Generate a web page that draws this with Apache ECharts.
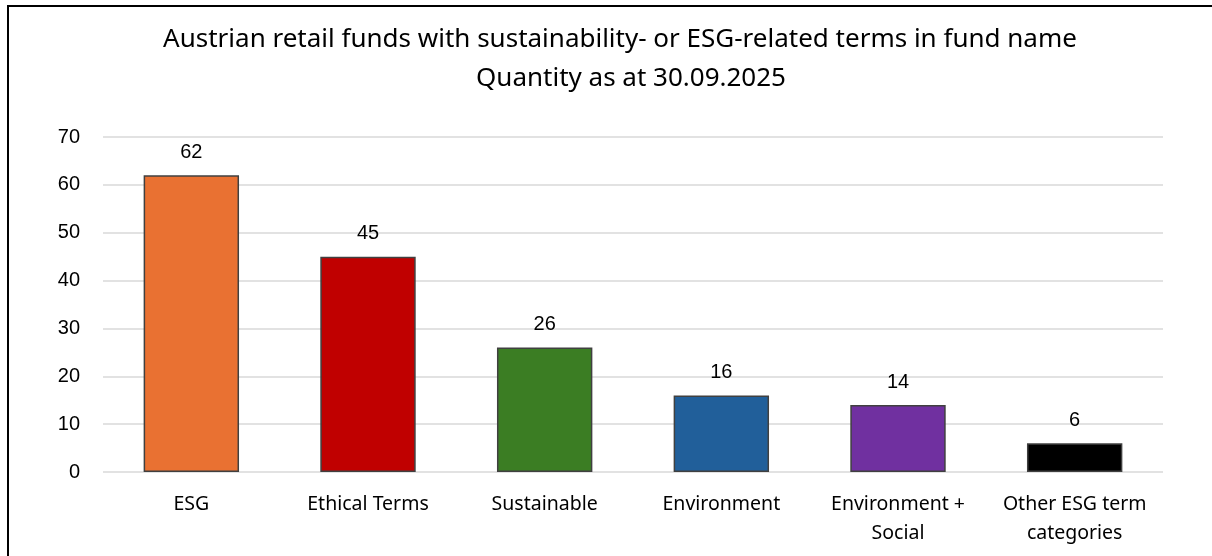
<!DOCTYPE html>
<html>
<head>
<meta charset="utf-8">
<script src="https://cdn.jsdelivr.net/npm/echarts@6/dist/echarts.min.js"></script>
<style>
  html, body { margin: 0; padding: 0; background: #ffffff; }
  #frame { position: absolute; left: 7px; top: 5px; width: 1220px; height: 560px; border: 2px solid #000; box-sizing: border-box; }
  #chart { position: absolute; left: 0; top: 0; width: 1212px; height: 556px; }
</style>
</head>
<body>
<div id="frame"></div>
<div id="chart"></div>
<script>
// Fund counts by term category
const categories = ['ESG', 'Ethical Terms', 'Sustainable', 'Environment', 'Environment +\nSocial', 'Other ESG term\ncategories'];
const fundCounts = [62, 45, 26, 16, 14, 6];
const barColors = ['#E97132', '#C00000', '#3B7D23', '#215F9A', '#7030A0', '#000000'];
const yTicks = { min: 0, max: 70, interval: 10 };
const titleLines = ['Austrian retail funds with sustainability- or ESG-related terms in fund name', 'Quantity as at 30.09.2025'];

const chart = echarts.init(document.getElementById('chart'), null, { renderer: 'canvas' });

const titleStyle = {
  fontFamily: 'Noto Sans',
  fontSize: 26,
  fontWeight: 'normal',
  color: '#000'
};

chart.setOption({
  backgroundColor: 'transparent',
  animation: false,
  title: [
    { text: titleLines[0], left: 615, top: 22, textAlign: 'center', textStyle: titleStyle },
    { text: titleLines[1], left: 626, top: 61, textAlign: 'center', textStyle: titleStyle }
  ],
  grid: { left: 103, right: 49, top: 137, bottom: 84, containLabel: false },
  xAxis: {
    type: 'category',
    data: categories,
    axisLine: { show: false },
    axisTick: { show: false },
    axisLabel: {
      interval: 0,
      margin: 18,
      fontFamily: 'Noto Sans',
      fontSize: 19.5,
      lineHeight: 29,
      color: '#000'
    }
  },
  yAxis: {
    type: 'value',
    min: yTicks.min,
    max: yTicks.max,
    interval: yTicks.interval,
    axisLine: { show: false },
    axisTick: { show: false },
    splitLine: { lineStyle: { color: '#D9D9D9', width: 1.5 } },
    axisLabel: {
      margin: 23,
      fontFamily: 'Liberation Sans',
      fontSize: 20,
      color: '#000'
    }
  },
  series: [{
    type: 'bar',
    barWidth: '54%',
    data: fundCounts.map((v, i) => ({
      value: v,
      itemStyle: { color: barColors[i] }
    })),
    itemStyle: { borderColor: '#404040', borderWidth: 1.5 },
    label: {
      show: true,
      position: 'top',
      distance: 13,
      fontFamily: 'Liberation Sans',
      fontSize: 20,
      color: '#000'
    }
  }]
});
</script>
</body>
</html>
